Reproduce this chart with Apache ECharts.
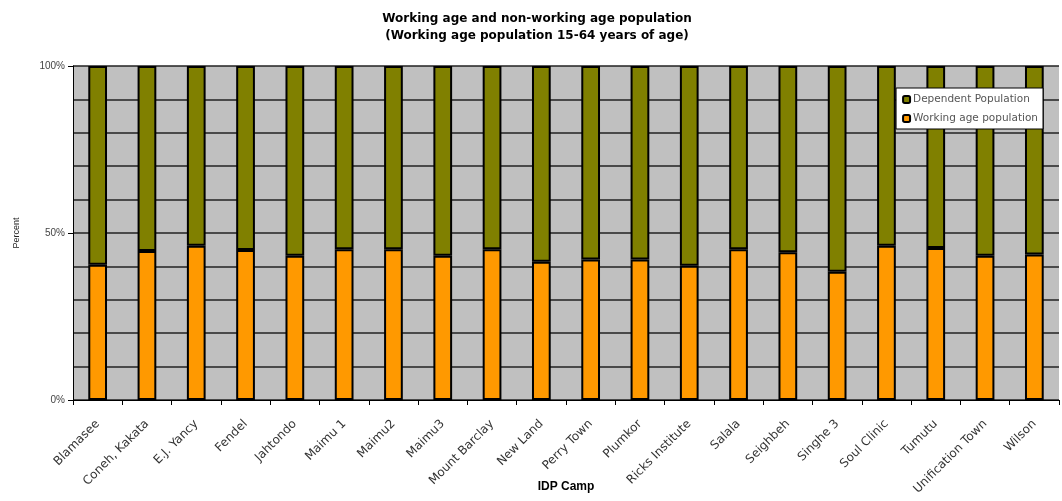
<!DOCTYPE html>
<html>
<head>
<meta charset="utf-8">
<script src="https://cdn.jsdelivr.net/npm/echarts@6/dist/echarts.min.js"></script>
<style>
  html, body { margin: 0; padding: 0; background: #fff; }
  #echart { width: 1062px; height: 501px; }
</style>
</head>
<body>
<div id="echart"></div>
<script>
// IDP camps
const camps = ["Blamasee", "Coneh, Kakata", "E.J. Yancy", "Fendel", "Jahtondo", "Maimu 1", "Maimu2", "Maimu3",
  "Mount Barclay", "New Land", "Perry Town", "Plumkor", "Ricks Institute", "Salala", "Seighbeh", "Singhe 3",
  "Soul Clinic", "Tumutu", "Unification Town", "Wilson"];
// percent of working age population (15-64)
const workingAge = [40.5, 44.6, 46.2, 44.9, 43.2, 45.1, 45.1, 43.2, 45.1, 41.4,
  42.1, 42.1, 40.2, 45.1, 44.2, 38.4, 46.2, 45.5, 43.2, 43.6];
// percent of dependent population
const dependent = [59.5, 55.4, 53.8, 55.1, 56.8, 54.9, 54.9, 56.8, 54.9, 58.6,
  57.9, 57.9, 59.8, 54.9, 55.8, 61.6, 53.8, 54.5, 56.8, 56.4];
const yLabels = { 0: "0%", 50: "50%", 100: "100%" };

const font = "'Liberation Sans', Arial, sans-serif";
const wide = "'DejaVu Sans', sans-serif";
const chart = echarts.init(document.getElementById("echart"));
chart.setOption({
  animation: false,
  title: {
    text: "Working age and non-working age population\n(Working age population 15-64 years of age)",
    left: 532,
    textAlign: "center",
    top: 5,
    textStyle: { fontFamily: wide, fontSize: 12, fontWeight: "bold", color: "#000", lineHeight: 17 }
  },
  legend: {
    data: ["Dependent Population", "Working age population"],
    orient: "vertical",
    right: 19,
    top: 88,
    backgroundColor: "#fff",
    borderColor: "#000",
    borderWidth: 1,
    padding: [6, 5, 5, 6],
    itemGap: 8,
    itemWidth: 7,
    itemHeight: 7,
    textStyle: { fontFamily: wide, fontSize: 10.5, color: "#555", padding: [0, 0, 0, -2] }
  },
  grid: {
    left: 73,
    right: 3,
    top: 66,
    bottom: 101,
    outerBoundsMode: "none",
    containLabel: false,
    show: true,
    backgroundColor: "#c0c0c0",
    borderWidth: 0
  },
  xAxis: {
    type: "category",
    data: camps,
    name: "IDP Camp",
    nameLocation: "middle",
    nameGap: 81,
    nameMoveOverlap: false,
    nameTextStyle: { fontFamily: font, fontSize: 12, fontWeight: "bold", color: "#000" },
    axisLine: { lineStyle: { color: "#000", width: 1 } },
    axisTick: { show: true, alignWithLabel: false, length: 5, lineStyle: { color: "#000" } },
    axisLabel: { rotate: 45, interval: 0, margin: 22, fontFamily: wide, fontSize: 12, color: "#333" }
  },
  yAxis: [
    {
      type: "value",
      min: 0,
      max: 100,
      interval: 10,
      axisLine: { show: false },
      axisTick: { show: false },
      axisLabel: { show: false },
      splitLine: { lineStyle: { color: "#222", width: 1.5 } }
    },
    {
      type: "value",
      position: "left",
      min: 0,
      max: 100,
      interval: 50,
      name: "Percent",
      nameLocation: "middle",
      nameRotate: 90,
      nameGap: 52,
      nameMoveOverlap: false,
      nameTextStyle: { fontFamily: font, fontSize: 9, color: "#222" },
      axisLine: { show: true, lineStyle: { color: "#000", width: 1 } },
      axisTick: { show: true, length: 5, lineStyle: { color: "#000" } },
      axisLabel: { fontFamily: font, fontSize: 10, color: "#444", margin: 8, formatter: v => yLabels[v] },
      splitLine: { show: false }
    }
  ],
  series: [
    {
      name: "Working age population",
      type: "bar",
      stack: "total",
      data: workingAge,
      barWidth: "38%",
      itemStyle: { color: "#ff9900", borderColor: "#000", borderWidth: 2 }
    },
    {
      name: "Dependent Population",
      type: "bar",
      stack: "total",
      data: dependent,
      barWidth: "38%",
      itemStyle: { color: "#808000", borderColor: "#000", borderWidth: 2 }
    }
  ]
});
</script>
</body>
</html>
